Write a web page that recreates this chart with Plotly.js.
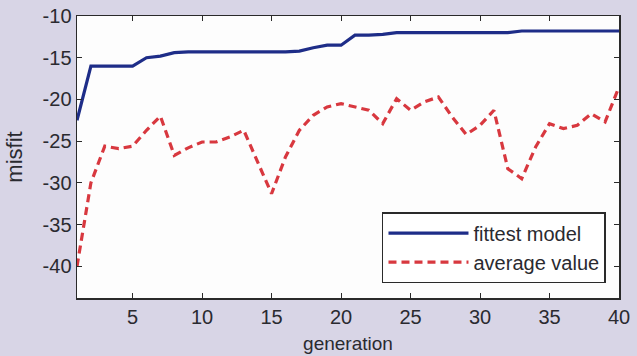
<!DOCTYPE html>
<html>
<head>
<meta charset="utf-8">
<script src="https://cdn.plot.ly/plotly-3.0.1.min.js"></script>
<style>
html,body{margin:0;padding:0;background:#d8d5e6;}
#chart{width:637px;height:356px;}
</style>
</head>
<body>
<div id="chart"></div>
<script>
const generation = [1,2,3,4,5,6,7,8,9,10,11,12,13,14,15,16,17,18,19,20,21,22,23,24,25,26,27,28,29,30,31,32,33,34,35,36,37,38,39,40];
const fittestModel = [-22.5,-16,-16,-16,-16,-15,-14.8,-14.4,-14.3,-14.3,-14.3,-14.3,-14.3,-14.3,-14.3,-14.3,-14.2,-13.8,-13.5,-13.5,-12.3,-12.3,-12.2,-12.0,-12.0,-12.0,-12.0,-12.0,-12.0,-12.0,-12.0,-12.0,-11.8,-11.8,-11.8,-11.8,-11.8,-11.8,-11.8,-11.8];
const averageValue = [-40,-30,-25.6,-25.9,-25.6,-23.7,-22,-26.7,-25.8,-25.1,-25.1,-24.5,-23.7,-27.5,-31.3,-26.9,-23.7,-21.9,-20.9,-20.5,-20.9,-21.3,-22.9,-19.9,-21.3,-20.3,-19.7,-22.1,-24.2,-23.1,-21.3,-28.3,-29.5,-25.7,-22.9,-23.5,-23.1,-21.7,-22.7,-18.5];
const seriesNames = ["fittest model", "average value"];
const xTicks = [5,10,15,20,25,30,35,40];
const yTicks = [-40,-35,-30,-25,-20,-15,-10];

const traces = [
  {x: generation, y: fittestModel, name: seriesNames[0], mode: "lines",
   line: {color: "#1e2d88", width: 3.2}},
  {x: generation, y: averageValue, name: seriesNames[1], mode: "lines",
   line: {color: "#d8383f", width: 3.2, dash: "8px,5px"}}
];

const axisCommon = {
  showgrid: false, zeroline: false, showline: true, mirror: "ticks",
  linecolor: "#2a2a2a", linewidth: 1.5, ticks: "inside", ticklen: 5,
  tickcolor: "#2a2a2a", tickfont: {family: "Arial, Liberation Sans", size: 20, color: "#2a2a30"}
};

const layout = {
  width: 637, height: 356,
  margin: {l: 77, r: 18, t: 16, b: 58},
  paper_bgcolor: "#d8d5e6",
  plot_bgcolor: "#fdfdfd",
  showlegend: true,
  xaxis: Object.assign({}, axisCommon, {
    range: [1, 40], tickvals: xTicks, ticktext: xTicks.map(String),
    title: {text: "generation", font: {family: "Arial, Liberation Sans", size: 19, color: "#2a2a30"}, standoff: 10}
  }),
  yaxis: Object.assign({}, axisCommon, {
    range: [-43.8, -10], tickvals: yTicks, ticktext: yTicks.map(String),
    title: {text: "misfit", font: {family: "Arial, Liberation Sans", size: 22, color: "#2a2a30"}, standoff: 14}
  }),
  legend: {
    x: 0.976, y: 0.053, xanchor: "right", yanchor: "bottom",
    bgcolor: "#ffffff", bordercolor: "#2a2a2a", borderwidth: 1.5,
    font: {family: "Arial, Liberation Sans", size: 20, color: "#2a2a30"},
    itemwidth: 80,
    tracegroupgap: 0
  }
};

Plotly.newPlot("chart", traces, layout, {displayModeBar: false, staticPlot: true});
</script>
</body>
</html>
